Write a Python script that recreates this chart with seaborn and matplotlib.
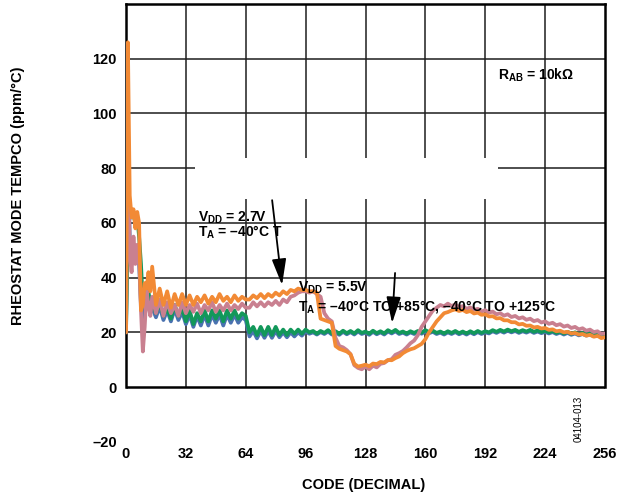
import matplotlib
matplotlib.use("Agg")
import matplotlib.pyplot as plt
from matplotlib.patches import Rectangle
import seaborn as sns
import pandas as pd

# ---------------- data ----------------
CODES = list(range(0, 14)) + list(range(14, 257, 2))

BLUE = ([20, 80, 55, 50, 52, 48, 50, 45, 30, 25, 32, 34, 30, 28]
        + [29, 25.5, 29.5, 24.5, 28, 24, 28.5, 24.5, 27.5]
        + [23, 26.5, 22, 26, 22.5, 26.5, 22.5, 26.5, 23.5, 26.5, 22.5, 26.5, 23.5, 26.5, 23.5, 25.5, 24.5]
        + [18.5, 20.5, 17.8, 20.5, 18, 20.5, 18, 20.5, 18.2, 20, 18.2, 20, 18.5, 20, 18.8, 20.3, 19.5]
        + [20.0, 19.2, 20.1, 19.4, 20.3, 19.2, 20.0, 19.1, 20.2, 19.3,
           20.1, 19.2, 20.3, 19.4, 19.9, 19.1, 20.2, 19.3, 20.0, 19.2,
           20.3, 19.6, 20.4, 19.4, 19.9, 19.2, 20.0, 19.4, 20.1, 19.5,
           20.3, 19.7, 20.2, 19.4, 19.9, 19.2, 20.0, 19.4, 20.1, 19.3,
           19.9, 19.2, 20.0, 19.3, 20.1, 19.4, 20.0, 19.6, 20.4, 19.8,
           20.5, 19.9, 20.6, 20.0, 20.5, 19.8, 20.4, 19.9, 20.5, 19.8,
           20.3, 19.7, 20.2, 19.6, 20.1, 19.4, 19.9, 19.2, 19.8, 19.1,
           19.6, 18.9, 19.4, 18.8, 19.2, 18.6, 19.1, 18.4, 18.8])

GREEN = ([20, 55, 65, 62, 63, 60, 62, 55, 45, 31, 36, 38, 35, 30]
         + [31, 27, 31, 26, 29, 25, 30, 26, 29]
         + [24, 28, 23, 27, 24, 28, 24, 28, 25, 28, 24, 28, 25, 28, 25, 27, 26]
         + [20, 22, 19, 22, 19, 22, 19, 22, 19, 21, 19, 21, 19.5, 21, 19.5, 21, 20]
         + [20.5, 19.5, 20.5, 19.8, 20.8, 19.6, 20.4, 19.5, 20.6, 19.7,
            20.5, 19.6, 20.8, 19.8, 20.3, 19.5, 20.6, 19.7, 20.4, 19.6,
            20.8, 20.0, 20.9, 19.8, 20.3, 19.6, 20.4, 19.8, 20.5, 19.9,
            20.8, 20.1, 20.6, 19.8, 20.3, 19.6, 20.4, 19.8, 20.5, 19.7,
            20.3, 19.6, 20.4, 19.7, 20.5, 19.8, 20.4, 20.0, 20.8, 20.2,
            20.9, 20.3, 21.0, 20.4, 20.9, 20.2, 20.8, 20.3, 20.9, 20.2,
            20.7, 20.1, 20.6, 20.0, 20.5, 19.8, 20.3, 19.6, 20.2, 19.5,
            20.0, 19.3, 19.8, 19.2, 19.6, 19.0, 19.5, 18.8, 19.2])

PINK = ([20, 100, 48, 42, 55, 45, 52, 48, 28, 13, 22, 35, 30, 26]
        + [33, 27, 32, 26, 31, 27, 30, 26, 31]
        + [27, 30, 27.5, 30.5, 27, 30, 28, 31, 27.5, 30, 28, 30.5, 28, 30, 28.5, 30.5, 29]
        + [29, 31, 29.5, 31, 29.5, 31, 30, 31.5, 30, 32, 31, 33, 33.5, 34.5, 35, 35, 34.5]
        + [35.0, 34.0, 33.0, 27.0, 25.0, 24.0, 18.0, 15.0, 14.5, 13.5,
           12.0, 8.0, 7.0, 6.5, 7.5, 6.5, 7.8, 7.2, 8.5, 8.8,
           9.8, 10.2, 11.8, 12.4, 13.2, 14.5, 16.0, 17.0, 19.0, 22.0,
           24.0, 26.0, 28.0, 29.0, 30.0, 29.5, 30.5, 29.6, 30.2, 29.2,
           29.6, 28.6, 29.1, 28.2, 28.6, 27.6, 28.1, 27.2, 27.6, 26.6,
           27.0, 26.1, 26.6, 25.6, 26.0, 25.1, 25.5, 24.6, 25.0, 24.1,
           24.5, 23.6, 24.0, 23.1, 23.5, 22.6, 23.0, 22.1, 22.5, 21.6,
           22.0, 21.1, 21.5, 20.6, 21.0, 20.1, 20.4, 19.4, 19.6])

ORANGE = ([20, 126, 70, 62, 65, 58, 64, 60, 28, 30, 38, 36, 42, 35]
          + [44, 30, 36, 30, 35, 29, 34, 30, 34]
          + [30, 33.5, 30, 33, 31, 33.5, 30.5, 33, 31, 34, 31.5, 33, 31, 33.5, 31.5, 33, 32]
          + [32, 33.5, 32.5, 34, 32.5, 34, 33, 34.5, 33.5, 35, 34, 35.5, 35, 36, 35.5, 35.5, 35]
          + [35.0, 34.5, 25.0, 24.5, 24.0, 23.5, 15.0, 14.0, 13.5, 13.0,
             12.0, 8.5, 7.5, 7.8, 8.2, 7.6, 8.6, 8.4, 9.2, 9.0,
             9.9, 9.8, 10.6, 11.2, 12.4, 13.2, 13.8, 14.2, 15.0, 15.8,
             17.5, 20.0, 22.0, 24.0, 25.5, 27.0, 27.4, 28.0, 28.4, 27.8,
             28.2, 27.4, 27.8, 26.9, 27.2, 26.4, 26.6, 25.8, 25.9, 25.1,
             25.2, 24.4, 24.4, 23.7, 23.7, 22.9, 23.1, 22.4, 22.5, 21.8,
             22.0, 21.4, 21.6, 20.9, 21.1, 20.4, 20.6, 20.0, 20.2, 19.6,
             19.8, 19.2, 19.4, 18.8, 19.1, 18.4, 18.7, 17.9, 18.2])

SERIES = {
    "VDD=5.5V, -40 to +125": BLUE,
    "VDD=5.5V, -40 to +85": GREEN,
    "VDD=2.7V, -40 to +125": PINK,
    "VDD=2.7V, -40 to +85": ORANGE,
}
COLORS = ["#4a72b0", "#12985a", "#c98090", "#f28a35"]

XTICKS = [0, 32, 64, 96, 128, 160, 192, 224, 256]
YTICKS = [-20, 0, 20, 40, 60, 80, 100, 120]
YTICKLABELS = ["\u201320", "0", "20", "40", "60", "80", "100", "120"]

# ---------------- style ----------------
sns.set_style("white")
plt.rcParams["font.family"] = ["Liberation Sans", "DejaVu Sans"]
plt.rcParams["mathtext.fontset"] = "custom"
plt.rcParams["mathtext.rm"] = "Liberation Sans:bold"
plt.rcParams["mathtext.bf"] = "Liberation Sans:bold"
plt.rcParams["mathtext.it"] = "Liberation Sans:bold"
for key in ["text.color", "xtick.color", "ytick.color", "axes.labelcolor",
            "axes.edgecolor"]:
    plt.rcParams[key] = "black"

rows = []
for name, vals in SERIES.items():
    for c, v in zip(CODES, vals):
        rows.append({"code": c, "tempco": v, "series": name})
df = pd.DataFrame(rows)

fig = plt.figure(figsize=(6.32, 5), dpi=100)
ax = fig.add_axes([126 / 632, 1 - 441.8 / 500, 479 / 632, 437.8 / 500])

sns.lineplot(data=df, x="code", y="tempco", hue="series",
             hue_order=list(SERIES.keys()), palette=COLORS,
             estimator=None, sort=False, linewidth=2.7, legend=False,
             ax=ax, zorder=3)

ax.set_xlim(0, 256)
ax.set_ylim(-20, 140)

# grid only in the 0..140 region
ax.vlines(XTICKS[1:-1], 0, 140, color="#1e1e1e", lw=1.1, zorder=1)
ax.hlines(YTICKS[2:], 0, 256, color="#1e1e1e", lw=1.1, zorder=1)
ax.add_patch(Rectangle((37, 68.7), 162, 15, facecolor="white",
                       edgecolor="none", zorder=1.5))

# frame
for s in ["left", "right", "top"]:
    ax.spines[s].set_linewidth(1.8)
    ax.spines[s].set_color("black")
ax.spines["left"].set_bounds(0, 140)
ax.spines["right"].set_bounds(0, 140)
ax.spines["bottom"].set_visible(False)
ax.hlines(0, 0, 256, color="black", lw=1.8, zorder=4)

ax.set_xticks(XTICKS)
ax.set_xticklabels([str(t) for t in XTICKS])
ax.set_yticks(YTICKS)
ax.set_yticklabels(YTICKLABELS)
ax.tick_params(axis="both", length=0, labelsize=10.5, colors="black")
ax.tick_params(axis="y", pad=6.5)
ax.tick_params(axis="x", pad=3.5)
for lbl in ax.get_xticklabels() + ax.get_yticklabels():
    lbl.set_fontweight("bold")
ax.set_xlabel("")
ax.set_ylabel("")

fig.text(18 / 632, 1 - 196 / 500, "RHEOSTAT MODE TEMPCO (ppm/°C)",
         rotation=90, ha="center", va="center", fontsize=10.5, fontweight="bold")
fig.text(364 / 632, 1 - 485 / 500, "CODE (DECIMAL)",
         ha="center", va="center", fontsize=10.5, fontweight="bold")
fig.text(579 / 632, 1 - 419 / 500, "04104-013", rotation=90,
         ha="center", va="center", fontsize=7)

# annotations
tkw = dict(fontsize=10, fontweight="bold", va="baseline", ha="left", zorder=6)
ax.text(199, 112.5, "R$_{AB}$ = 10kΩ", **tkw)
ax.text(38.5, 60.4, "V$_{DD}$ = 2.7V", **tkw)
ax.text(38.5, 54.9, "T$_{A}$ = \u201340°C T", **tkw)
ax.text(92.1, 34.8, "V$_{DD}$ = 5.5V", **tkw)
ax.text(92.1, 28.1, "T$_{A}$ = \u201340°C TO +85°C, \u201340°C TO +125°C", **tkw)

akw = dict(arrowstyle="-|>,head_length=0.8,head_width=0.22", color="black",
           lw=1.3, mutation_scale=20, shrinkA=0, shrinkB=0)
ax.annotate("", xy=(83.4, 37.3), xytext=(78.1, 68.3), arrowprops=akw, zorder=6)
ax.annotate("", xy=(142.2, 23.4), xytext=(143.8, 41.7), arrowprops=akw, zorder=6)

fig.savefig("out.png", dpi=100)
